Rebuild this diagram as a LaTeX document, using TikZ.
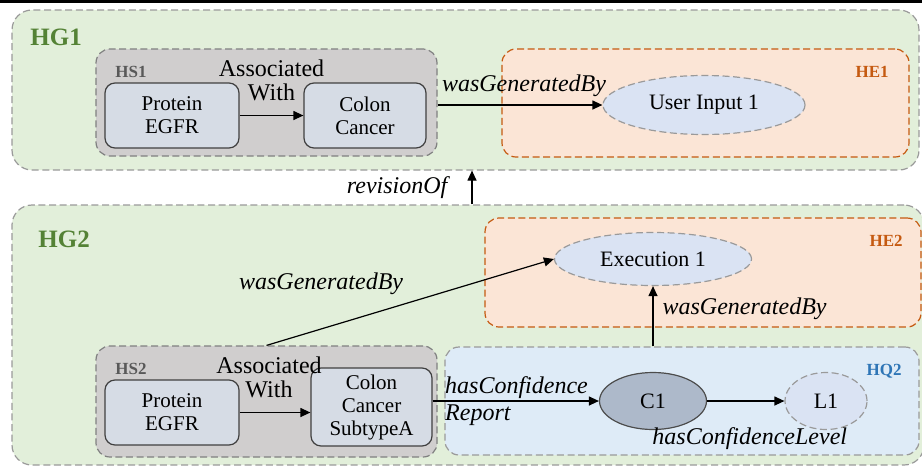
\documentclass[tikz,border=0pt]{standalone}
\usepackage{fontspec}
\setmainfont{Liberation Serif}
\usetikzlibrary{arrows.meta,shapes.geometric,calc}
\definecolor{hgfill}{HTML}{E2EFDA}
\definecolor{hgtext}{HTML}{548235}
\definecolor{hsfill}{HTML}{D0CECE}
\definecolor{hstext}{HTML}{595959}
\definecolor{boxfill}{HTML}{D6DCE5}
\definecolor{hefill}{HTML}{FBE5D6}
\definecolor{hedraw}{HTML}{C55A11}
\definecolor{ellfill}{HTML}{DAE3F3}
\definecolor{hqfill}{HTML}{DEEBF7}
\definecolor{hqtext}{HTML}{2E75B6}
\definecolor{cfill}{HTML}{ADB9CA}
\definecolor{dashgray}{HTML}{9A9A9A}
\tikzset{
  dsh/.style={dash pattern=on 3.5pt off 1.8pt, line width=0.6pt},
  grp/.style={rectangle, rounded corners=10pt, dsh, draw=dashgray, fill=hgfill, inner sep=0pt},
  hsbox/.style={rectangle, rounded corners=7pt, dsh, draw=gray, fill=hsfill, inner sep=0pt},
  hebox/.style={rectangle, rounded corners=7pt, dsh, draw=hedraw, fill=hefill, inner sep=0pt},
  hqbox/.style={rectangle, rounded corners=7pt, dsh, draw=dashgray, fill=hqfill, inner sep=0pt},
  ent/.style={rectangle, rounded corners=5pt, draw=black!75, line width=0.6pt, fill=boxfill, align=center, inner sep=0pt, font=\fontsize{10.5}{11.5}\selectfont},
  ell/.style={ellipse, dsh, draw=dashgray, fill=ellfill, inner sep=0pt, font=\fontsize{11}{12}\selectfont},
  cell/.style={ellipse, draw=black!70, line width=0.6pt, fill=cfill, inner sep=0pt, font=\fontsize{11}{12}\selectfont},
  arr/.style={-{Triangle[length=5pt,width=4.5pt]}, line width=0.6pt},
  lbl/.style={font=\fontsize{12}{13.5}\selectfont\itshape, inner sep=0pt},
  assoc/.style={font=\fontsize{12}{12}\selectfont, align=center, inner sep=0pt},
  tag/.style={font=\fontsize{8.5}{9}\selectfont\bfseries, inner sep=0pt},
  gtag/.style={font=\fontsize{12.5}{13}\selectfont\bfseries, text=hgtext, inner sep=0pt},
}
\begin{document}
\begin{tikzpicture}[x=0.5pt,y=-0.5pt]
\useasboundingbox (0,0) rectangle (922,467);
\clip (0,0) rectangle (922,467);
\fill[white] (0,0) rectangle (922,467);
\fill[black] (0,0) rectangle (922,2.5);
% group 1
\node[grp, minimum width=453.5pt, minimum height=80pt] (HG1) at (465.5,90) {};
\node[gtag, anchor=base west] (hg1t) at (30,45) {HG1};
\node[hsbox, minimum width=170.5pt, minimum height=53.5pt] (HS1) at (266.5,102.5) {};
\node[tag, text=hstext, anchor=base west] (hs1t) at (115,77) {HS1};
\node[ent, minimum width=67pt, minimum height=32.5pt] (PE1) at (172,115.5) {Protein\\EGFR};
\node[ent, minimum width=61pt, minimum height=32.5pt] (CC1) at (365,115.5) {Colon\\Cancer};
\node[hebox, minimum width=203.5pt, minimum height=54pt] (HE1) at (705.5,103) {};
\node[tag, text=hedraw, anchor=base east] (he1t) at (889,77) {HE1};
\node[ell, minimum width=101pt, minimum height=29.5pt] (UI1) at (704,105) {User Input 1};
% group 2
\node[grp, minimum width=456pt, minimum height=130pt] (HG2) at (468,335) {};
\node[gtag, anchor=base west] (hg2t) at (38,247) {HG2};
\node[hebox, minimum width=218pt, minimum height=54.5pt] (HE2) at (703,272.5) {};
\node[tag, text=hedraw, anchor=base east] (he2t) at (903,246) {HE2};
\node[ell, minimum width=98.5pt, minimum height=26.5pt] (Exec) at (653,259) {Execution 1};
\node[hsbox, minimum width=170.5pt, minimum height=55.5pt] (HS2) at (266.5,401.5) {};
\node[tag, text=hstext, anchor=base west] (hs2t) at (115,374) {HS2};
\node[ent, minimum width=67pt, minimum height=32.5pt] (PE2) at (172,412.5) {Protein\\EGFR};
\node[ent, minimum width=60.5pt, minimum height=39pt] (CC2) at (371.5,407) {Colon\\Cancer\\SubtypeA};
\node[hqbox, minimum width=237pt, minimum height=54pt] (HQ2) at (682,401) {};
\node[tag, text=hqtext, anchor=base east] (hq2t) at (902,375) {HQ2};
\node[cell, minimum width=53.5pt, minimum height=28.5pt] (C1) at (653,401) {C1};
\node[ell, minimum width=41pt, minimum height=28.5pt] (L1) at (826,401) {L1};
% connectors
\coordinate (rv) at (472,188);
\draw[arr] (PE1.east) -- node[assoc, above=7pt] {Associated\\With} (CC1.west);
\draw[arr] (HS1.east |- UI1.west) -- node[lbl, above=4pt, xshift=2pt] {wasGeneratedBy} (UI1.west);
\draw[arr] (HG2.north -| rv) -- node[lbl, left=12pt] {revisionOf} (HG1.south -| rv);
\draw[arr] (HS2.north) -- node[lbl, pos=0.19, anchor=south, yshift=17pt] {wasGeneratedBy} (Exec.west);
\draw[arr] (HQ2.north -| Exec.south) -- node[lbl, anchor=west, xshift=4.5pt, yshift=3.5pt] {wasGeneratedBy} (Exec.south);
\draw[arr] (PE2.east) -- node[assoc, above=7pt, xshift=-3pt] {Associated\\With} (CC2.west |- PE2.east);
\draw[arr] (CC2.east |- C1.west) -- node[lbl, pos=0, anchor=west, xshift=6pt, align=left] {hasConfidence\\Report} (C1.west);
\draw[arr] (C1.east) -- node[lbl, below=13pt, xshift=2pt] {hasConfidenceLevel} (L1.west);
\end{tikzpicture}
\end{document}
